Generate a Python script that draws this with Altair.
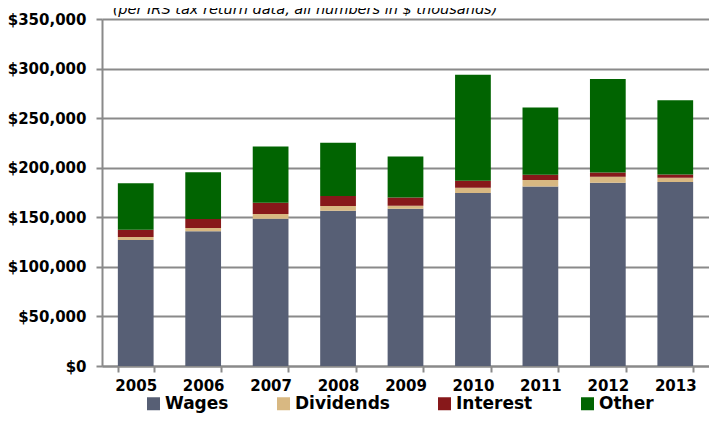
import altair as alt
import pandas as pd

years = ["2005", "2006", "2007", "2008", "2009", "2010", "2011", "2012", "2013"]
wages = [127000, 135800, 148500, 156600, 158600, 174400, 181100, 184800, 185500]
dividends = [3000, 3300, 4700, 4700, 3000, 5400, 6400, 6000, 4300]
interest = [7400, 9100, 11400, 10100, 8400, 7000, 5400, 4400, 3400]
other = [47000, 47100, 56900, 53700, 41400, 106900, 67900, 94400, 74900]

series = ["Wages", "Dividends", "Interest", "Other"]
colors = ["#575f75", "#d8b882", "#87181a", "#016401"]
subtitle = "(per IRS tax return data, all numbers in $ thousands)"

rows = []
for i, y in enumerate(years):
    for k, (name, vals) in enumerate(zip(series, [wages, dividends, interest, other])):
        rows.append({"Year": y, "Series": name, "Value": vals[i], "ord": k})
df = pd.DataFrame(rows)

FONT = "DejaVu Sans"
GREY = "#8a8a8a"

bars = alt.Chart(df).mark_bar().encode(
    x=alt.X("Year:N", sort=years,
            scale=alt.Scale(paddingInner=0.47, paddingOuter=0.235),
            axis=alt.Axis(title=None, labelAngle=0, tickBand="extent",
                          labelFont=FONT, labelFontSize=15, labelFontWeight="bold",
                          labelColor="black", labelPadding=6, tickSize=6,
                          tickColor=GREY, tickWidth=2, domainColor=GREY,
                          domainWidth=2, grid=False)),
    y=alt.Y("Value:Q", stack="zero",
            scale=alt.Scale(domain=[0, 350000], nice=False),
            axis=alt.Axis(title=None, values=[0, 50000, 100000, 150000, 200000, 250000, 300000, 350000],
                          format="$,.0f", labelFont=FONT, labelFontSize=15,
                          labelFontWeight="bold", labelColor="black", labelPadding=10,
                          tickSize=6, tickColor=GREY, tickWidth=2, domainColor=GREY,
                          domainWidth=2, gridColor=GREY, gridWidth=2)),
    color=alt.Color("Series:N", sort=series,
                    scale=alt.Scale(domain=series, range=colors),
                    legend=alt.Legend(title=None, orient="none", direction="horizontal",
                                      legendX=43, legendY=376, padding=0,
                                      symbolType="square", symbolSize=169,
                                      symbolStrokeWidth=0, labelFont=FONT,
                                      labelFontSize=17, labelFontWeight="bold",
                                      labelColor="black", labelOffset=3,
                                      columnPadding=46)),
    order=alt.Order("ord:Q", sort="ascending"),
)

title_df = pd.DataFrame({"t": [subtitle]})
title = alt.Chart(title_df).mark_text(
    font=FONT, fontSize=14.5, fontStyle="italic", color="black",
    align="center", baseline="alphabetic"
).encode(x=alt.value(203), y=alt.value(-5), text="t:N")

chart = alt.layer(bars, title).properties(
    width=607, height=347,
    autosize=alt.AutoSizeParams(type="none"),
    padding={"left": 94, "top": 11, "right": 0, "bottom": 47},
).configure_view(stroke=None).configure_axis(gridCap="butt")

chart.save("out.html", embed_options={"renderer": "svg", "actions": False})
